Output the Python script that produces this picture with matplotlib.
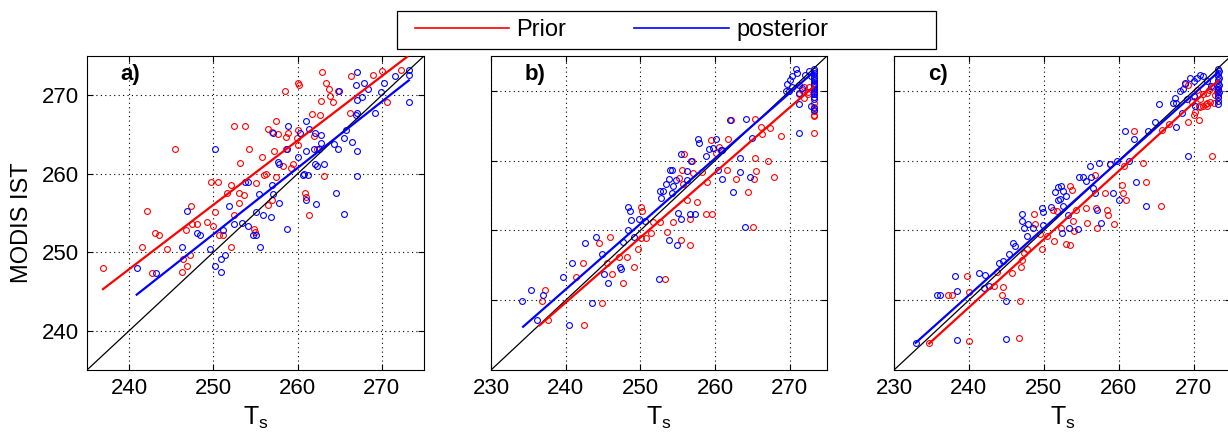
import numpy as np
import matplotlib
matplotlib.use("Agg")
import matplotlib.pyplot as plt
from matplotlib.lines import Line2D
from matplotlib.patches import Rectangle

plt.rcParams['font.family'] = ['Liberation Sans', 'DejaVu Sans']
plt.rcParams['mathtext.fontset'] = 'custom'
plt.rcParams['mathtext.rm'] = 'Liberation Sans'

# ---- data: (T_s, MODIS IST) pairs ----
a_prior = np.array([
    (236.9, 248.0), (242.1, 255.3), (245.5, 263.2), (241.5, 250.7), (243.1, 252.5),
    (243.5, 252.2), (242.7, 247.3), (244.5, 250.4), (246.4, 249.1), (246.9, 248.3),
    (246.3, 247.5), (246.7, 252.8), (247.3, 255.9), (247.2, 249.7), (247.5, 253.6),
    (248.0, 253.6), (249.3, 253.8), (250.0, 253.3), (250.2, 255.1), (249.7, 258.9),
    (250.5, 258.9), (250.7, 252.2), (251.2, 252.2), (252.1, 250.7), (252.1, 258.6),
    (251.6, 257.5), (252.4, 266.1), (253.2, 261.4), (253.7, 266.1), (254.2, 263.1),
    (253.1, 256.3), (253.1, 257.5), (253.6, 257.3), (252.5, 254.7), (255.8, 262.1),
    (255.0, 258.8), (256.0, 259.8), (256.3, 260.0), (256.5, 265.7), (257.0, 265.3),
    (257.4, 266.7), (257.2, 262.9), (257.7, 265.1), (258.3, 261.0), (258.5, 270.6),
    (258.6, 264.7), (258.6, 263.1), (258.8, 265.2), (259.2, 260.7), (259.4, 261.2),
    (257.4, 259.6), (256.9, 256.7), (256.5, 256.0), (254.8, 252.9), (254.9, 252.6),
    (260.0, 271.6), (260.2, 271.3), (259.9, 264.6), (260.1, 265.6), (260.1, 263.7),
    (260.9, 257.5), (261.0, 257.1), (261.3, 254.8), (261.7, 267.6), (262.7, 267.5),
    (262.8, 269.3), (262.9, 272.9), (263.4, 271.5), (263.7, 270.8), (263.9, 269.9),
    (264.2, 269.1), (264.8, 270.6), (263.1, 259.7), (266.2, 267.8), (266.3, 272.5),
    (268.9, 272.6), (270.0, 273.1), (270.6, 269.2), (272.3, 273.2), (262.3, 263.2),
    (261.9, 264.8),
])
a_post = np.array([
    (240.9, 248.0), (243.2, 247.3), (246.3, 250.7), (246.9, 255.2), (248.1, 252.5),
    (248.4, 252.2), (249.6, 250.4), (250.2, 248.2), (250.2, 263.2), (250.9, 247.5),
    (250.9, 249.1), (251.4, 249.7), (251.1, 252.8), (251.9, 255.9), (252.4, 253.6),
    (253.8, 258.9), (254.1, 258.9), (253.4, 253.7), (254.1, 253.3), (254.7, 252.2),
    (255.0, 252.2), (255.1, 255.1), (255.4, 257.4), (255.9, 254.7), (255.5, 250.7),
    (256.8, 254.5), (256.9, 258.6), (257.1, 257.4), (257.8, 256.3), (257.7, 261.5),
    (257.8, 261.3), (258.7, 252.9), (258.7, 263.1), (258.8, 266.1), (257.1, 265.2),
    (260.1, 262.1), (260.3, 265.2), (260.6, 259.8), (260.8, 260.0), (261.2, 259.8),
    (261.0, 262.9), (261.0, 266.7), (261.0, 256.7), (261.3, 265.7), (261.9, 263.2),
    (262.1, 265.2), (262.2, 256.1), (262.1, 261.2), (262.3, 261.0), (262.5, 263.2),
    (262.8, 264.9), (262.8, 263.9), (263.1, 261.3), (264.3, 263.8), (264.6, 257.5),
    (264.8, 263.1), (264.9, 270.6), (265.5, 254.9), (265.8, 265.6), (266.5, 264.0),
    (267.0, 262.9), (267.1, 259.7), (266.9, 267.5), (267.1, 269.4), (266.9, 271.3),
    (267.1, 272.9), (267.7, 269.8), (267.9, 271.5), (268.4, 270.8), (269.2, 267.7),
    (269.9, 270.4), (270.2, 271.5), (271.6, 272.5), (273.2, 272.6), (273.2, 269.2),
    (273.2, 273.2), (265.5, 264.6), (267.0, 267.8),
])

b_prior = np.array([
    (236.8, 239.9), (237.2, 241.5), (237.6, 237.1), (242.4, 236.5), (241.4, 243.3),
    (242.3, 245.3), (244.5, 248.2), (244.8, 239.6), (246.0, 249.0), (245.6, 245.3),
    (246.2, 243.8), (247.1, 246.2), (247.7, 242.5), (248.2, 246.2), (249.2, 244.8),
    (249.7, 247.4), (250.1, 253.3), (250.2, 252.8), (250.1, 248.9), (250.8, 248.9),
    (251.4, 249.7), (251.7, 251.2), (252.6, 251.2), (253.3, 243.0), (253.6, 249.8),
    (254.4, 251.2), (255.4, 248.7), (256.6, 247.9), (255.6, 258.6), (255.9, 261.0),
    (255.2, 257.5), (255.7, 256.7), (256.2, 254.4), (256.6, 251.6), (256.9, 260.0),
    (257.0, 258.2), (257.6, 254.1), (258.2, 258.4), (258.9, 256.9), (258.8, 252.3),
    (259.4, 262.9), (259.6, 252.4), (260.2, 261.1), (260.5, 261.9), (261.8, 263.1),
    (262.1, 265.8), (261.6, 258.7), (262.8, 257.4), (264.4, 255.5), (265.1, 250.5),
    (265.3, 266.0), (265.3, 260.4), (265.5, 258.5), (265.2, 257.4), (266.3, 263.8),
    (267.1, 260.0), (267.3, 264.7), (267.9, 257.7), (268.8, 263.5), (266.1, 264.8),
    (273.2, 269.6), (273.2, 268.2), (273.2, 267.7), (273.2, 263.9), (272.6, 270.6),
    (272.4, 269.9), (271.7, 270.1), (271.9, 270.6), (271.2, 269.6), (273.2, 271.0),
    (273.2, 271.6), (273.2, 267.1), (273.2, 266.6), (273.2, 266.4), (272.4, 269.5),
    (271.9, 269.0), (273.2, 270.3),
])
b_post = np.array([
    (234.2, 239.9), (235.4, 241.5), (237.0, 240.7), (236.2, 237.1), (240.4, 236.5),
    (239.7, 243.3), (240.9, 245.3), (242.6, 248.2), (243.5, 239.6), (244.0, 249.0),
    (244.9, 246.6), (245.1, 243.8), (245.7, 242.5), (247.3, 244.8), (247.4, 244.5),
    (247.7, 248.4), (248.4, 253.3), (248.6, 252.8), (248.8, 251.5), (248.4, 250.1),
    (249.1, 249.1), (249.8, 251.6), (250.6, 251.3), (252.5, 243.0), (252.8, 254.6),
    (252.6, 255.7), (253.1, 255.7), (253.8, 257.4), (254.0, 258.6), (254.2, 258.6),
    (253.5, 256.6), (254.4, 256.4), (254.8, 257.3), (255.4, 261.0), (255.1, 252.5),
    (255.5, 251.6), (254.9, 247.9), (253.8, 248.7), (254.2, 255.4), (256.2, 258.5),
    (256.3, 257.2), (256.6, 252.4), (257.3, 252.4), (256.8, 260.0), (257.7, 263.1),
    (257.8, 262.5), (258.8, 260.6), (259.2, 261.7), (260.2, 263.1), (260.4, 258.7),
    (260.8, 261.5), (260.9, 257.4), (260.9, 261.5), (259.7, 261.8), (262.4, 255.5),
    (263.3, 258.4), (263.4, 260.4), (264.0, 250.5), (264.1, 266.0), (264.7, 257.7),
    (264.9, 263.3), (271.3, 263.9), (262.0, 265.8),
    (270.8, 273.1), (271.0, 272.6), (270.3, 272.1), (270.1, 271.6), (269.5, 270.0),
    (269.9, 270.0), (270.3, 270.6), (271.2, 270.9), (271.2, 269.7), (271.7, 270.4),
    (272.1, 272.3), (272.6, 272.8), (272.8, 272.1), (271.2, 268.1), (269.6, 271.0),
    (273.2, 273.1), (273.2, 272.6), (273.2, 272.1), (273.2, 271.6), (273.2, 271.1),
    (273.2, 270.6), (273.2, 270.1), (273.2, 269.6), (273.2, 269.1), (273.2, 268.8),
    (273.3, 272.9), (273.3, 271.9), (273.3, 270.9), (273.3, 269.9), (272.9, 267.8),
    (273.2, 267.5), (273.2, 267.3),
])

c_prior = np.array([
    (234.7, 233.8), (237.2, 240.7), (237.7, 240.7), (239.7, 243.5), (240.0, 241.2),
    (240.0, 234.2), (243.3, 242.0), (243.7, 244.0), (244.6, 241.9), (244.4, 240.8),
    (245.8, 243.9), (246.7, 234.6), (246.8, 239.9), (246.9, 244.8), (247.1, 245.8),
    (247.4, 246.8), (247.7, 247.4), (248.7, 252.3), (248.8, 250.9), (249.5, 249.5),
    (249.8, 247.3), (250.4, 249.2), (251.2, 253.0), (251.3, 248.5), (251.7, 252.8),
    (252.3, 250.4), (253.0, 248.1), (253.5, 247.9), (253.5, 256.3), (253.8, 255.8),
    (253.9, 251.3), (254.1, 249.9), (254.3, 253.0), (255.7, 253.2), (255.8, 251.1),
    (256.9, 258.0), (257.0, 253.2), (257.1, 250.4), (258.2, 255.4), (258.4, 253.0),
    (258.6, 252.2), (259.4, 250.9), (258.9, 259.5), (260.4, 256.5), (260.6, 255.4),
    (261.0, 254.4), (260.7, 259.2), (262.1, 264.2), (263.3, 259.7), (263.6, 257.0),
    (265.7, 253.5), (265.8, 264.4), (266.7, 265.2), (268.9, 271.0), (270.7, 265.8),
    (272.5, 260.7), (269.3, 265.6), (270.0, 266.5), (270.9, 267.7), (271.3, 267.9),
    (271.8, 268.2), (272.2, 268.4), (272.9, 269.4), (273.1, 269.9), (270.4, 270.1),
    (271.3, 269.6), (272.0, 270.1), (272.4, 270.6), (269.8, 268.4), (270.2, 267.0),
    (269.3, 270.8), (270.9, 268.8), (271.6, 268.1), (271.8, 267.9), (272.7, 268.3),
    (273.3, 269.1), (273.3, 270.3), (271.8, 269.7), (270.7, 267.8), (270.0, 269.2),
])
c_post = np.array([
    (233.0, 233.9), (235.7, 240.7), (236.1, 240.7), (238.1, 243.5), (238.4, 241.3),
    (238.4, 234.3), (241.3, 243.9), (242.1, 243.6), (242.0, 241.8), (242.7, 242.0),
    (244.0, 245.4), (244.6, 245.6), (245.0, 239.9), (244.9, 234.5), (245.3, 246.6),
    (245.9, 248.2), (246.1, 247.8), (247.1, 252.3), (247.1, 251.3), (247.4, 250.3),
    (247.9, 250.9), (248.5, 250.4), (247.7, 249.2), (249.8, 253.2), (249.9, 252.7),
    (249.9, 250.8), (250.9, 253.3), (251.5, 255.5), (251.9, 256.2), (252.3, 256.3),
    (252.1, 254.5), (251.9, 254.4), (252.6, 255.7), (252.6, 253.5), (253.0, 254.9),
    (253.2, 252.2), (253.4, 250.4), (252.4, 249.7), (254.6, 250.2), (254.7, 257.6),
    (255.2, 257.7), (255.7, 257.1), (256.2, 259.3), (256.3, 257.6), (256.6, 256.1),
    (256.8, 255.4), (257.1, 253.0), (257.6, 251.0), (257.4, 259.7), (258.8, 259.5),
    (259.3, 255.4), (260.0, 254.4), (259.8, 260.0), (260.9, 264.2), (262.1, 263.1),
    (262.3, 257.0), (261.4, 259.9), (263.7, 253.5), (263.9, 264.2), (264.8, 265.5),
    (265.4, 268.1), (267.6, 268.3), (269.3, 260.7), (267.6, 264.8), (268.5, 266.9),
    (269.5, 271.9), (268.9, 271.1), (270.0, 271.4), (270.4, 271.9), (270.9, 272.3),
    (271.3, 272.1), (268.6, 270.2), (268.2, 270.0), (267.5, 269.0), (269.1, 268.8),
    (270.0, 269.2), (270.2, 267.8), (267.3, 268.3), (271.8, 271.4), (272.3, 270.7),
    (273.2, 273.1), (273.2, 272.6), (273.2, 272.1), (273.2, 271.6), (273.2, 271.1),
    (273.2, 270.6), (273.2, 270.1), (273.2, 269.6), (273.2, 269.1), (273.2, 268.6),
    (273.2, 268.1), (273.4, 272.8), (273.4, 271.8), (273.4, 270.8), (273.4, 269.8),
])

# fitted lines (end points)
a_prior_fit = np.array([(236.9, 245.3), (273.0, 274.9)])
a_post_fit = np.array([(240.9, 244.6), (273.2, 271.9)])
b_prior_fit = np.array([(236.5, 236.4), (273.2, 270.6)])
b_post_fit = np.array([(234.3, 236.2), (273.2, 272.7)])
c_prior_fit = np.array([(234.7, 233.8), (273.3, 271.5)])
c_post_fit = np.array([(232.9, 233.9), (273.3, 272.7)])

panel_labels = ['a)', 'b)', 'c)']
panel_lims = [(235, 275), (230, 275), (230, 275)]
panel_xticks = [[240, 250, 260, 270], [230, 240, 250, 260, 270], [230, 240, 250, 260, 270]]
yticks = [240, 250, 260, 270]

W, H = 1228, 434
fig = plt.figure(figsize=(W / 100, H / 100), dpi=100)
boxes = [(87, 424), (491, 827), (894, 1231)]
top, bottom = 56, 370

panels = [
    (a_prior, a_post, a_prior_fit, a_post_fit),
    (b_prior, b_post, b_prior_fit, b_post_fit),
    (c_prior, c_post, c_prior_fit, c_post_fit),
]

for i, (prior, post, pfit, qfit) in enumerate(panels):
    l, r = boxes[i]
    ax = fig.add_axes([l / W, (H - bottom) / H, (r - l) / W, (bottom - top) / H])
    lo, hi = panel_lims[i]
    ax.plot([lo, hi], [lo, hi], color='k', lw=0.9, zorder=3)
    ax.plot(prior[:, 0], prior[:, 1], 'o', mfc='none', mec='r', ms=4.2, mew=0.8, zorder=2)
    ax.plot(post[:, 0], post[:, 1], 'o', mfc='none', mec='b', ms=4.2, mew=0.8, zorder=2)
    ax.plot(pfit[:, 0], pfit[:, 1], color='r', lw=1.6, zorder=4)
    ax.plot(qfit[:, 0], qfit[:, 1], color='b', lw=1.6, zorder=4)
    ax.set_xlim(lo, hi)
    ax.set_ylim(lo, hi)
    ax.set_xticks(panel_xticks[i])
    ax.set_yticks(yticks)
    if i > 0:
        ax.set_yticklabels([])
    else:
        ax.set_ylabel('MODIS IST', fontsize=17)
        ax.yaxis.set_label_coords(-0.16, 0.468)
    ax.set_xlabel(r'$\mathregular{T_s}$', fontsize=18, labelpad=4)
    ax.tick_params(direction='in', top=True, right=True, length=4, width=0.8,
                   labelsize=16, pad=6)
    ax.grid(True, color='k', linestyle=(0, (1, 3)), lw=0.8)
    for s in ax.spines.values():
        s.set_linewidth(0.8)
    ax.text(0.10, 0.975, panel_labels[i], transform=ax.transAxes, fontsize=16,
            fontweight='bold', va='top', ha='left')

handles = [Line2D([], [], color='r', lw=1.2), Line2D([], [], color='b', lw=1.2)]
fig.legend(handles, ['Prior', 'posterior'], loc='center left',
           bbox_to_anchor=(414.6 / W, 1 - 30 / H), ncol=2, frameon=False,
           handlelength=4.0, handletextpad=0.3, columnspacing=2.9,
           borderpad=0, borderaxespad=0, fontsize=17)
fig.patches.append(Rectangle((397 / W, 1 - 49 / H), (936 - 397) / W, 38 / H,
                             transform=fig.transFigure, fill=False,
                             edgecolor='k', lw=0.9))

fig.savefig('out.png', dpi=100)
